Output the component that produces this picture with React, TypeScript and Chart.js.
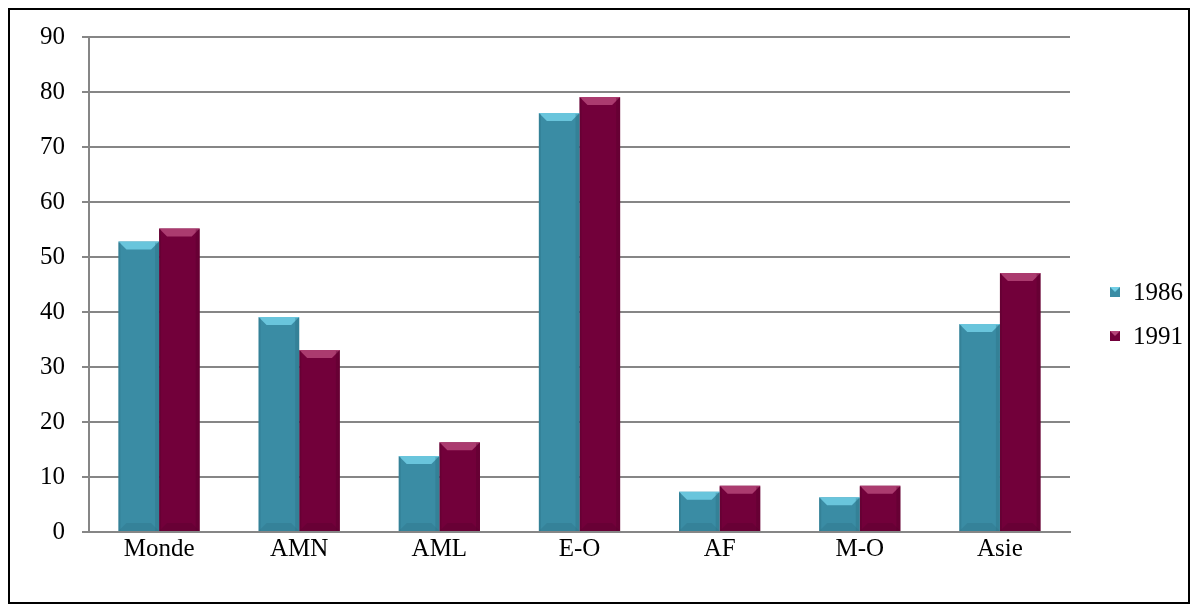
import React, { useEffect, useRef } from "react";
import { Chart, registerables } from "chart.js";

Chart.register(...registerables);

const categories = ["Monde", "AMN", "AML", "E-O", "AF", "M-O", "Asie"];
const seriesLabels = ["1986", "1991"];
const values1986 = [52.8, 39.1, 13.8, 76.2, 7.3, 6.3, 37.8];
const values1991 = [55.2, 33.1, 16.3, 79.1, 8.4, 8.4, 47.1];
const yTicks = [0, 10, 20, 30, 40, 50, 60, 70, 80, 90];

const TEAL = "#3A8CA4";
const TEAL_LIGHT = "#72CFE6";
const TEAL_DARK = "#2A6E82";
const MAROON = "#72003A";
const MAROON_LIGHT = "#B54579";
const MAROON_DARK = "#52002A";

const FONT = "'Liberation Serif', 'Times New Roman', serif";
const FONT_SIZE = 25;

const bevelPlugin = {
  id: "bevel",
  afterDatasetsDraw(chart: any) {
    const ctx = chart.ctx;
    chart.data.datasets.forEach((ds: any, di: number) => {
      const meta = chart.getDatasetMeta(di);
      const light = di === 0 ? TEAL_LIGHT : MAROON_LIGHT;
      const dark = di === 0 ? TEAL_DARK : MAROON_DARK;
      meta.data.forEach((bar: any) => {
        const { x, y, base, width } = bar.getProps(["x", "y", "base", "width"], true);
        const l = x - width / 2;
        const r = x + width / 2;
        const b = 8;
        ctx.save();
        ctx.fillStyle = light;
        ctx.globalAlpha = 0.85;
        ctx.beginPath();
        ctx.moveTo(l, y);
        ctx.lineTo(r, y);
        ctx.lineTo(r - b, y + b);
        ctx.lineTo(l + b, y + b);
        ctx.closePath();
        ctx.fill();
        ctx.globalAlpha = 0.35;
        ctx.fillStyle = dark;
        ctx.fillRect(r - 4, y + 1, 4, base - y - 1);
        ctx.fillRect(l, y + 1, 2, base - y - 1);
        ctx.globalAlpha = 0.3;
        ctx.beginPath();
        ctx.moveTo(l, base);
        ctx.lineTo(r, base);
        ctx.lineTo(r - b, base - b);
        ctx.lineTo(l + b, base - b);
        ctx.closePath();
        ctx.fill();
        ctx.restore();
      });
    });
  },
};

const legendPlugin = {
  id: "customLegend",
  afterDraw(chart: any) {
    const ctx = chart.ctx;
    const colors = [TEAL, MAROON];
    const lights = [TEAL_LIGHT, MAROON_LIGHT];
    const startY = 282;
    const gap = 44;
    chart.data.datasets.forEach((ds: any, i: number) => {
      const cy = startY + i * gap;
      const bx = 1100;
      const s = 10;
      ctx.save();
      ctx.fillStyle = colors[i];
      ctx.fillRect(bx, cy - s / 2, s, s);
      ctx.fillStyle = lights[i];
      ctx.beginPath();
      ctx.moveTo(bx, cy - s / 2);
      ctx.lineTo(bx + s, cy - s / 2);
      ctx.lineTo(bx + s / 2, cy);
      ctx.closePath();
      ctx.fill();
      ctx.fillStyle = "#000";
      ctx.font = `${FONT_SIZE}px ${FONT}`;
      ctx.textBaseline = "middle";
      ctx.textAlign = "left";
      ctx.fillText(ds.label, 1123, cy + 1);
      ctx.restore();
    });
  },
};

export default function App() {
  const ref = useRef<HTMLCanvasElement | null>(null);
  useEffect(() => {
    if (!ref.current) return;
    const chart = new Chart(ref.current, {
      type: "bar",
      data: {
        labels: categories,
        datasets: [
          { label: seriesLabels[0], data: values1986, backgroundColor: TEAL, borderWidth: 0 },
          { label: seriesLabels[1], data: values1991, backgroundColor: MAROON, borderWidth: 0 },
        ],
      },
      options: {
        responsive: false,
        animation: false,
        layout: { padding: { top: 27, left: 0, right: 118, bottom: 0 } },
        datasets: {
          bar: { categoryPercentage: 0.58, barPercentage: 1 },
        },
        plugins: {
          legend: { display: false },
          tooltip: { enabled: false },
        },
        scales: {
          x: {
            grid: { display: false, drawTicks: false, tickLength: 0 },
            border: { display: true, color: "#868686", width: 2 },
            ticks: {
              color: "#000",
              font: { family: FONT, size: FONT_SIZE },
              padding: 2,
            },
            afterFit(scale: any) {
              scale.height = 70;
              scale.paddingLeft = 0;
              scale.paddingRight = 0;
            },
          },
          y: {
            min: 0,
            max: 90,
            afterBuildTicks(scale: any) {
              scale.ticks = yTicks.map((v) => ({ value: v }));
            },
            grid: { color: "#868686", lineWidth: 2, tickLength: 7, drawTicks: true },
            border: { display: true, color: "#868686", width: 2 },
            ticks: {
              color: "#000",
              font: { family: FONT, size: FONT_SIZE },
              padding: 17,
            },
            afterFit(scale: any) {
              scale.width = 79;
              scale.paddingTop = 0;
              scale.paddingBottom = 0;
            },
          },
        },
      },
      plugins: [bevelPlugin, legendPlugin],
    });
    return () => chart.destroy();
  }, []);
  return (
    <div
      style={{
        width: 1182,
        height: 596,
        boxSizing: "border-box",
        border: "2px solid #000",
        background: "#fff",
      }}
    >
      <canvas ref={ref} width={1178} height={592} style={{ display: "block" }} />
    </div>
  );
}
